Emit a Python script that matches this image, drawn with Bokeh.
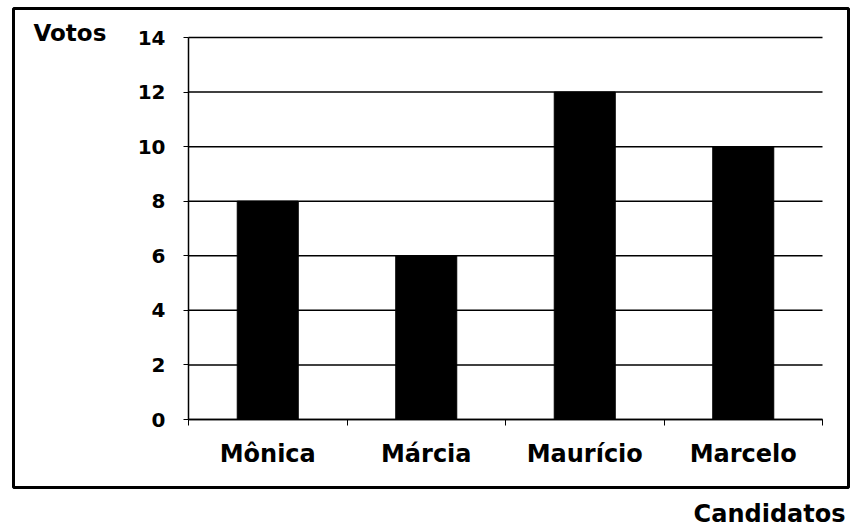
from bokeh.plotting import figure
from bokeh.models import Range1d, FixedTicker, Label, ColumnDataSource
from bokeh.embed import file_html
from bokeh.resources import INLINE

candidatos = ["Mônica", "Márcia", "Maurício", "Marcelo"]
votos = [8, 6, 12, 10]
y_ticks = [0, 2, 4, 6, 8, 10, 12, 14]
y_label = "Votos"
x_label = "Candidatos"

FONT = "DejaVu Sans"
W, H = 850, 526
# outer box (= plot frame) in pixels
BOX_L, BOX_R, BOX_T, BOX_B = 13, 848, 8, 487
# where the data area sits inside the box, in pixels
AX_L, AX_R, AX_T, AX_B = 188, 822, 37, 419

n = len(candidatos)
y_max = y_ticks[-1]
sx = (AX_R - AX_L) / n
sy = (AX_B - AX_T) / y_max
x_range = Range1d(-(AX_L - BOX_L) / sx, n + (BOX_R - AX_R) / sx)
y_range = Range1d(-(BOX_B - AX_B) / sy, y_max + (AX_T - BOX_T) / sy)

xs = [i + 0.5 for i in range(n)]
src = ColumnDataSource(data=dict(x=xs, top=votos, name=candidatos))
grid = ColumnDataSource(data=dict(x0=[0] * len(y_ticks), x1=[n] * len(y_ticks), y=y_ticks))

p = figure(width=W, height=H, output_backend="svg", toolbar_location=None,
           x_range=x_range, y_range=y_range,
           min_border_left=BOX_L, min_border_right=W - BOX_R,
           min_border_top=BOX_T, min_border_bottom=H - BOX_B)
p.outline_line_color = "black"
p.outline_line_width = 3
p.xgrid.visible = False
p.ygrid.visible = False

p.segment(x0="x0", x1="x1", y0="y", y1="y", source=grid, line_color="black", line_width=1.5)
p.vbar(x="x", top="top", width=0.385, source=src, fill_color="black", line_color="black")

p.yaxis.fixed_location = 0
p.yaxis.bounds = (0, y_max)
p.yaxis.ticker = FixedTicker(ticks=y_ticks, minor_ticks=[])
p.yaxis.axis_line_color = "black"
p.yaxis.axis_line_width = 1.5
p.yaxis.major_tick_out = 5
p.yaxis.major_tick_in = 0
p.yaxis.major_label_text_font = FONT
p.yaxis.major_label_text_font_style = "bold"
p.yaxis.major_label_text_font_size = "20px"
p.yaxis.major_label_text_color = "black"
p.yaxis.major_label_standoff = 18

p.xaxis.fixed_location = 0
p.xaxis.bounds = (0, n)
p.xaxis.ticker = FixedTicker(ticks=xs, minor_ticks=list(range(n + 1)))
p.xaxis.major_label_overrides = {x: c for x, c in zip(xs, candidatos)}
p.xaxis.axis_line_color = "black"
p.xaxis.axis_line_width = 1.5
p.xaxis.major_tick_out = 0
p.xaxis.major_tick_in = 0
p.xaxis.minor_tick_out = 6
p.xaxis.minor_tick_in = 0
p.xaxis.minor_tick_line_color = "black"
p.xaxis.major_label_text_font = FONT
p.xaxis.major_label_text_font_style = "bold"
p.xaxis.major_label_text_font_size = "24px"
p.xaxis.major_label_text_color = "black"
p.xaxis.major_label_standoff = 14

p.add_layout(Label(x=33, y=19, x_units="canvas", y_units="canvas", text=y_label,
                   text_font=FONT, text_font_style="bold", text_font_size="23px",
                   text_color="black", text_baseline="top", text_align="left"))
p.add_layout(Label(x=845, y=499, x_units="canvas", y_units="canvas", text=x_label,
                   text_font=FONT, text_font_style="bold", text_font_size="24px",
                   text_color="black", text_baseline="top", text_align="right"), "below")

open("out.html", "w").write(file_html(p, INLINE))
